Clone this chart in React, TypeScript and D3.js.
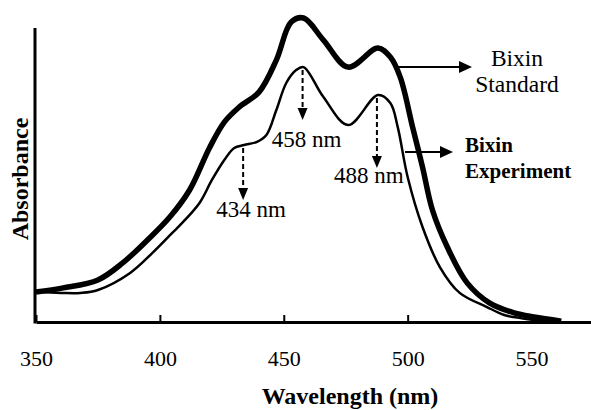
import React, { useEffect, useRef } from 'react';
import * as d3 from 'd3';

// absorbance spectra (arbitrary units, 0 = baseline axis)
const standardNm = [350, 361, 375, 385, 395, 404, 412, 420, 426, 432, 440, 447, 453, 458, 466, 476, 488, 493, 497, 502, 506, 510, 516, 524, 533, 543, 551, 562];
const standardAbs = [0.102, 0.116, 0.143, 0.201, 0.279, 0.357, 0.449, 0.592, 0.68, 0.731, 0.782, 0.891, 1.02, 1.034, 0.959, 0.867, 0.932, 0.901, 0.833, 0.663, 0.527, 0.381, 0.255, 0.133, 0.065, 0.031, 0.017, 0.003];

const experimentNm = [350, 360, 368, 375, 388, 397, 405, 409, 416, 421, 426, 430, 434, 439, 443, 447, 451, 455, 458, 466, 476, 488, 493, 496, 500, 506, 513, 521, 532, 539, 545, 554];
const experimentAbs = [0.102, 0.099, 0.099, 0.109, 0.167, 0.235, 0.303, 0.337, 0.405, 0.483, 0.551, 0.592, 0.602, 0.612, 0.636, 0.721, 0.813, 0.857, 0.867, 0.765, 0.67, 0.772, 0.745, 0.663, 0.493, 0.323, 0.187, 0.099, 0.051, 0.024, 0.014, 0.003];

const xTicks = [350, 400, 450, 500, 550];
const peakNm = [434, 458, 488];
const peakLabels = ['434 nm', '458 nm', '488 nm'];

const W = 591;
const H = 410;
const serif = 'Liberation Serif, Tinos, DejaVu Serif, serif';

function App() {
  const ref = useRef<SVGSVGElement>(null);

  useEffect(() => {
    const svg = d3.select(ref.current);
    svg.selectAll('*').remove();
    svg.attr('font-family', serif);

    const x = d3.scaleLinear().domain([350, 574]).range([36, W]);
    const y = d3.scaleLinear().domain([0, 1]).range([322, 28]);

    const toPts = (nm: number[], ab: number[]) => nm.map((n, i) => [n, ab[i]] as [number, number]);
    const line = d3.line<[number, number]>()
      .x(d => x(d[0]))
      .y(d => y(d[1]))
      .curve(d3.curveCatmullRom.alpha(0.5));

    // axes
    const xAxis = svg.append('g')
      .attr('transform', `translate(0, ${y(0)})`)
      .call(d3.axisBottom(x).tickValues(xTicks).tickSizeInner(-7).tickSizeOuter(0).tickFormat(d3.format('d')));
    xAxis.attr('font-family', serif).attr('font-size', 22);
    xAxis.select('.domain').attr('stroke', '#000').attr('stroke-width', 3);
    xAxis.selectAll('.tick line').attr('stroke', '#000').attr('stroke-width', 2);
    xAxis.selectAll('.tick text')
      .attr('y', 44).attr('dy', 0)
      .attr('fill', '#000');

    svg.append('line')
      .attr('x1', x(350) - 1).attr('x2', x(350) - 1)
      .attr('y1', y(1)).attr('y2', y(0) + 1.5)
      .attr('stroke', '#000').attr('stroke-width', 3);

    // spectra
    svg.append('path')
      .attr('d', line(toPts(standardNm, standardAbs)))
      .attr('fill', 'none').attr('stroke', '#000').attr('stroke-width', 5.5)
      .attr('stroke-linejoin', 'round');
    svg.append('path')
      .attr('d', line(toPts(experimentNm, experimentAbs)))
      .attr('fill', 'none').attr('stroke', '#000').attr('stroke-width', 2.5)
      .attr('stroke-linejoin', 'round');

    // dashed arrows to the experiment peaks
    const arrowLen = [52, 50, 70];
    const labelDx = [8, 4, -8];
    const labelDy = [17, 27, 15];
    peakNm.forEach((nm, i) => {
      const px = x(nm) - 1;
      const py = y(d3.least(experimentNm.map((n, j) => [n, experimentAbs[j]]), d => Math.abs(d[0] - nm))![1]) + 3;
      const tip = py + arrowLen[i];
      svg.append('line')
        .attr('x1', px).attr('x2', px)
        .attr('y1', py).attr('y2', tip - 10)
        .attr('stroke', '#000').attr('stroke-width', 2)
        .attr('stroke-dasharray', '5,3');
      svg.append('path')
        .attr('d', `M${px - 5},${tip - 12}L${px + 5},${tip - 12}L${px},${tip}Z`)
        .attr('fill', '#000');
      svg.append('text')
        .attr('x', px + labelDx[i]).attr('y', tip + labelDy[i])
        .attr('text-anchor', 'middle')
        .attr('font-size', 23)
        .text(peakLabels[i]);
    });

    // legend arrows
    const legend = (x1: number, x2: number, yy: number) => {
      svg.append('line').attr('x1', x1).attr('x2', x2 - 11).attr('y1', yy).attr('y2', yy)
        .attr('stroke', '#000').attr('stroke-width', 2);
      svg.append('path').attr('d', `M${x2 - 13},${yy - 6}L${x2},${yy}L${x2 - 13},${yy + 6}Z`).attr('fill', '#000');
    };
    legend(397, 472, 67);
    legend(405, 453, 152);

    svg.append('text').attr('x', 517).attr('y', 66).attr('text-anchor', 'middle')
      .attr('font-size', 23.5).text('Bixin');
    svg.append('text').attr('x', 517).attr('y', 92).attr('text-anchor', 'middle')
      .attr('font-size', 23.5).text('Standard');
    svg.append('text').attr('x', 465).attr('y', 152)
      .attr('font-size', 21).attr('font-weight', 'bold').text('Bixin');
    svg.append('text').attr('x', 465).attr('y', 178)
      .attr('font-size', 21).attr('font-weight', 'bold').text('Experiment');

    // axis titles
    svg.append('text').attr('x', 350).attr('y', 404).attr('text-anchor', 'middle')
      .attr('font-size', 24).attr('font-weight', 'bold')
      .text('Wavelength (nm)');
    svg.append('text')
      .attr('transform', `translate(28, 179) rotate(-90)`)
      .attr('text-anchor', 'middle')
      .attr('font-size', 24).attr('font-weight', 'bold')
      .text('Absorbance');
  }, []);

  return (
    <svg ref={ref} width={W} height={H}
      style={{ position: 'absolute', left: 0, top: 0, background: '#fff' }} />
  );
}

export default App;
